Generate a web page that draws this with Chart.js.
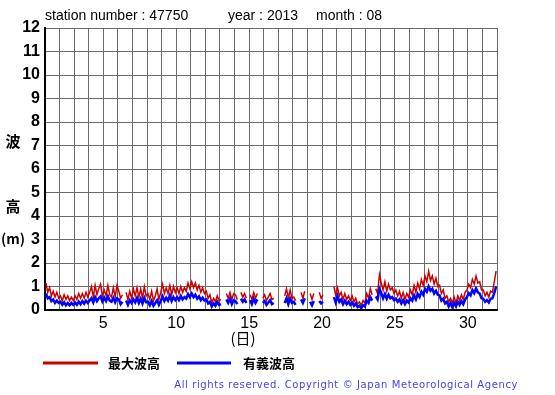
<!DOCTYPE html>
<html><head><meta charset="utf-8">
<script src="https://cdn.jsdelivr.net/npm/chart.js@4"></script>
<style>html,body{margin:0;padding:0;background:#fff;}canvas{display:block;}</style>
</head><body>
<canvas id="c" width="555" height="395"></canvas>
<script>
// 3-hourly values, 8 per day, Aug 1 .. Aug 31 (null = missing)
const maxWave = [
1.15,0.75,0.95,0.6,0.8,0.55,0.75,0.5,
0.6,0.4,0.65,0.45,0.6,0.4,0.55,0.4,
0.6,0.45,0.7,0.5,0.7,0.5,0.75,0.55,
0.75,1.0,0.55,1.05,0.65,0.9,1.1,0.6,
0.85,0.6,1.05,0.65,0.55,0.95,0.55,1.05,
0.8,0.5,0.65,null,0.75,0.45,0.8,0.5,
0.9,0.6,0.95,0.55,0.9,0.5,1.0,0.6,
0.7,0.45,0.8,0.4,0.6,0.9,0.45,0.75,
1.1,0.7,0.95,0.7,1.05,0.65,1.0,0.75,
0.95,0.7,1.0,0.75,0.95,0.8,1.15,0.9,
1.2,0.95,1.15,0.85,1.05,0.75,0.95,0.7,
0.8,0.5,0.65,0.3,0.5,0.35,0.6,0.4,
0.45,null,null,0.7,0.5,0.75,0.45,0.7,
0.65,0.45,null,0.75,0.55,0.7,0.5,null,
0.65,0.45,0.75,0.5,0.7,null,null,0.5,
0.65,0.4,0.55,0.7,0.45,0.5,null,null,
null,null,null,0.6,0.9,0.5,0.85,0.5,
0.55,0.4,null,null,0.75,0.5,0.8,null,
null,0.7,0.45,0.7,null,null,0.75,0.5,
0.65,null,null,null,null,null,1.0,0.65,
0.95,0.6,0.75,0.45,0.7,0.45,0.6,0.4,
0.6,0.35,0.5,0.25,0.35,0.2,0.4,0.3,
0.7,0.5,0.9,0.65,null,0.9,0.7,1.5,
1.15,0.85,1.2,0.8,1.1,0.85,0.95,0.7,
0.85,0.6,0.8,0.5,0.75,0.45,0.7,0.55,
0.85,0.65,1.05,0.75,1.15,0.9,1.3,1.05,
1.45,1.2,1.65,1.25,1.45,1.1,1.35,1.0,
1.05,0.7,0.85,0.5,0.6,0.35,0.5,0.3,
0.55,0.3,0.6,0.4,0.65,0.45,0.75,0.85,
1.1,0.95,1.3,1.1,1.45,1.15,1.2,0.85,
0.85,0.6,0.75,0.55,0.8,0.75,1.2,1.65
];
const sigWave = [
0.7,0.5,0.55,0.38,0.45,0.3,0.4,0.3,
0.35,0.22,0.33,0.2,0.3,0.2,0.3,0.22,
0.32,0.22,0.36,0.25,0.38,0.27,0.4,0.3,
0.4,0.5,0.32,0.55,0.38,0.5,0.58,0.36,
0.52,0.38,0.58,0.4,0.35,0.52,0.33,0.5,
0.45,0.25,0.35,null,0.4,0.22,0.42,0.3,
0.45,0.32,0.52,0.3,0.48,0.28,0.52,0.33,
0.35,0.2,0.38,0.18,0.3,0.42,0.22,0.38,
0.58,0.38,0.52,0.4,0.62,0.38,0.55,0.42,
0.55,0.42,0.6,0.45,0.55,0.48,0.68,0.55,
0.7,0.55,0.65,0.48,0.58,0.42,0.52,0.4,
0.45,0.28,0.35,0.15,0.28,0.18,0.35,0.22,
0.25,null,null,0.45,0.3,0.48,0.25,0.42,
0.38,0.25,null,0.48,0.35,0.45,0.3,null,
0.42,0.25,0.48,0.3,0.45,null,null,0.3,
0.38,0.22,0.32,0.42,0.25,0.3,null,null,
null,null,null,0.3,0.5,0.25,0.48,0.3,
0.35,0.22,null,null,0.45,0.3,0.5,null,
null,0.35,0.2,0.38,null,null,0.38,0.28,
0.35,null,null,null,null,null,0.55,0.32,
0.6,0.35,0.45,0.25,0.4,0.25,0.35,0.22,
0.32,0.18,0.28,0.12,0.18,0.08,0.2,0.15,
0.4,0.3,0.55,0.4,null,0.58,0.45,0.9,
0.72,0.5,0.68,0.48,0.65,0.5,0.55,0.42,
0.48,0.35,0.45,0.28,0.42,0.25,0.4,0.32,
0.5,0.4,0.62,0.45,0.68,0.55,0.78,0.65,
0.9,0.78,1.0,0.82,0.9,0.7,0.82,0.65,
0.62,0.4,0.48,0.28,0.35,0.15,0.3,0.12,
0.3,0.15,0.35,0.22,0.38,0.25,0.45,0.55,
0.72,0.62,0.85,0.72,0.92,0.75,0.7,0.5,
0.48,0.35,0.42,0.32,0.48,0.5,0.72,1.0
];
const samplesPerDay = 8;
const dayLabels = [5,10,15,20,25,30];
const yTicks = [0,1,2,3,4,5,6,7,8,9,10,11,12];
const titleParts = ["station number : 47750", "year : 2013", "month : 08"];
const legendLabels = ["最大波高", "有義波高"];
const xTitle = "(日)";
const yTitle = ["波", "高", "(m)"];
const copyright = "All rights reserved. Copyright © Japan Meteorological Agency";

const toPts = arr => arr.map((v,i)=>({x: 1 + (i + 0.5)/samplesPerDay, y: v}));

const decor = {
  id:'decor',
  afterDraw(chart){
    const ctx = chart.ctx;
    ctx.save();
    ctx.fillStyle = '#000';
    ctx.textBaseline = 'middle';
    ctx.font = '14px "Liberation Sans", Arial, sans-serif';
    ctx.textAlign = 'left';
    ctx.fillText(titleParts[0], 45, 16);
    ctx.fillText(titleParts[1], 228, 16);
    ctx.fillText(titleParts[2], 316, 16);
    // y title
    ctx.font = 'bold 15px "Noto Sans CJK JP", sans-serif';
    ctx.textAlign = 'center';
    ctx.fillText(yTitle[0], 13, 141);
    ctx.fillText(yTitle[1], 13, 206);
    ctx.font = 'bold 14px "Noto Sans CJK JP", sans-serif';
    ctx.fillText(yTitle[2], 13, 239);
    // x title
    ctx.font = '15px "Noto Sans CJK JP", sans-serif';
    ctx.fillText(xTitle, 243, 338);
    // legend
    ctx.lineWidth = 3;
    ctx.strokeStyle = '#cc0000';
    ctx.beginPath(); ctx.moveTo(43,363); ctx.lineTo(98,363); ctx.stroke();
    ctx.strokeStyle = '#0000ff';
    ctx.beginPath(); ctx.moveTo(177,363); ctx.lineTo(231,363); ctx.stroke();
    ctx.font = 'bold 13px "Noto Sans CJK JP", sans-serif';
    ctx.textAlign = 'left';
    ctx.fillText(legendLabels[0], 108, 363);
    ctx.fillText(legendLabels[1], 243, 363);
    // copyright
    ctx.fillStyle = '#4444ee';
    ctx.font = '10px "DejaVu Sans", sans-serif';
    try { ctx.letterSpacing = '0.6px'; } catch(e) {}
    ctx.textAlign = 'right';
    ctx.fillText(copyright, 518, 385);
    ctx.restore();
  }
};

new Chart(document.getElementById('c'), {
  type: 'line',
  data: {
    datasets: [
      {label: legendLabels[1], data: toPts(sigWave), borderColor:'#0000ff', borderWidth:2.5, pointRadius:0, spanGaps:false, order:0, tension:0},
      {label: legendLabels[0], data: toPts(maxWave), borderColor:'#cc0000', borderWidth:1.5, pointRadius:0, spanGaps:false, order:1, tension:0}
    ]
  },
  options: {
    responsive:false, animation:false, events:[],
    layout:{padding:{left:0, top:28, right:58, bottom:60}},
    plugins:{legend:{display:false}, tooltip:{enabled:false}},
    scales:{
      x:{type:'linear', min:1, max:32,
        afterFit(s){ s.height = 25; },
        afterBuildTicks(s){ s.ticks = []; for(let d=1; d<=32; d++) s.ticks.push({value:d}); },
        grid:{color:'#6a6a6a', lineWidth:1, drawTicks:false},
        border:{color:'#000', width:2},
        ticks:{autoSkip:false, maxRotation:0, padding:4, color:'#000',
          font:{family:'"Liberation Sans", Arial, sans-serif', size:16},
          callback:v => dayLabels.includes(v) ? String(v) : ''}
      },
      y:{type:'linear', min:0, max:12,
        afterFit(s){ s.width = 45; },
        afterBuildTicks(s){ s.ticks = yTicks.map(v=>({value:v})); },
        grid:{color:'#6a6a6a', lineWidth:1, drawTicks:false},
        border:{color:'#000', width:2},
        ticks:{padding:5, color:'#000',
          font:{family:'"Liberation Sans", Arial, sans-serif', size:16, weight:'bold'}}
      }
    }
  },
  plugins:[decor]
});
</script>
</body></html>
